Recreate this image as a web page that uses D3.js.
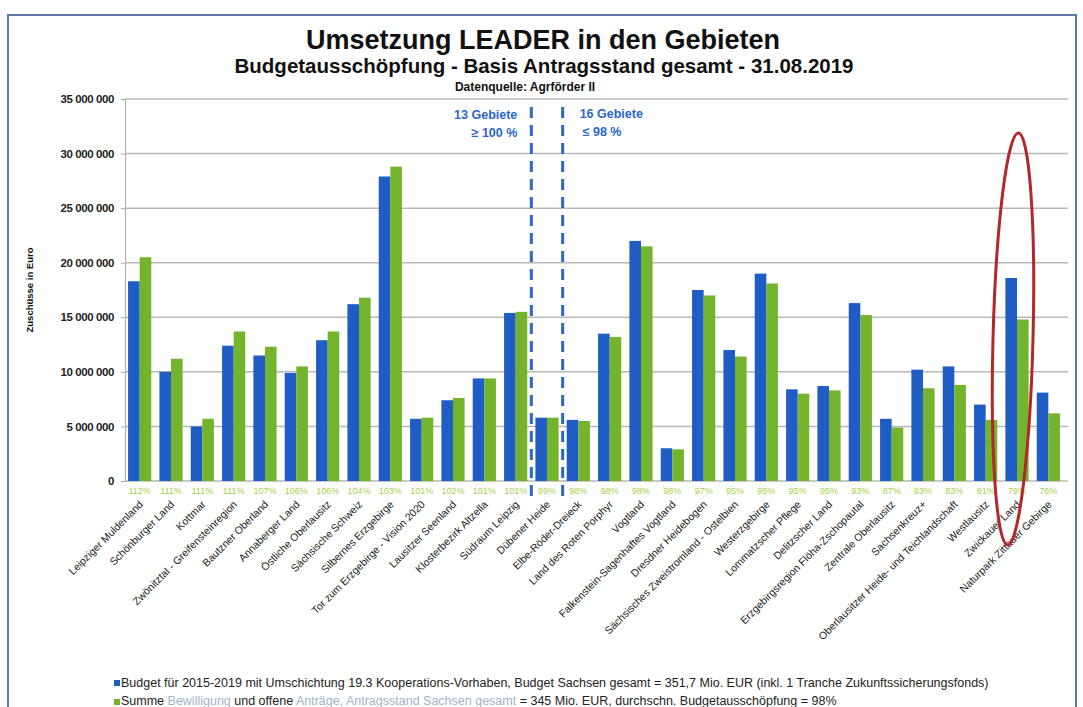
<!DOCTYPE html>
<html>
<head>
<meta charset="utf-8">
<script src="https://cdn.jsdelivr.net/npm/d3@7"></script>
<style>
  body { margin: 0; background: #fff; }
  svg { display: block; }
  text { font-family: "Liberation Sans", Arial, sans-serif; }
</style>
</head>
<body>
<div id="chart"></div>
<script>
// LEADER-Gebiete, sortiert nach Budgetausschöpfung
const regions = [
  "Leipziger Muldenland", "Schönburger Land", "Kottmar", "Zwönitztal - Greifensteinregion",
  "Bautzner Oberland", "Annaberger Land", "Östliche Oberlausitz", "Sächsische Schweiz",
  "Silbernes Erzgebirge", "Tor zum Erzgebirge - Vision 2020", "Lausitzer Seenland",
  "Klosterbezirk Altzella", "Südraum Leipzig", "Dübener Heide", "Elbe-Röder-Dreieck",
  "Land des Roten Porphyr", "Vogtland", "Falkenstein-Sagenhaftes Vogtland", "Dresdner Heidebogen",
  "Sächsisches Zweistromland - Ostelbien", "Westerzgebirge", "Lommatzscher Pflege",
  "Delitzscher Land", "Erzgebirgsregion Flöha-Zschopautal", "Zentrale Oberlausitz",
  "Sachsenkreuz+", "Oberlausitzer Heide- und Teichlandschaft", "Westlausitz",
  "Zwickauer Land", "Naturpark Zittauer Gebirge"
];
// Budget 2015-2019 (Euro)
const budget = [
  18300000, 10000000, 5000000, 12400000, 11500000, 9900000, 12900000, 16200000,
  27900000, 5700000, 7400000, 9400000, 15400000, 5800000, 5600000,
  13500000, 22000000, 3000000, 17500000, 12000000, 19000000, 8400000,
  8700000, 16300000, 5700000, 10200000, 10500000, 7000000, 18600000, 8100000
];
// Summe Bewilligung und offene Anträge (Euro)
const antraege = [
  20500000, 11200000, 5700000, 13700000, 12300000, 10500000, 13700000, 16800000,
  28800000, 5800000, 7600000, 9400000, 15500000, 5800000, 5500000,
  13200000, 21500000, 2900000, 17000000, 11400000, 18100000, 8000000,
  8300000, 15200000, 4900000, 8500000, 8800000, 5600000, 14800000, 6200000
];
const quote = [
  "112%", "111%", "111%", "111%", "107%", "106%", "106%", "104%", "103%", "101%",
  "102%", "101%", "101%", "99%", "98%", "98%", "98%", "98%", "97%", "95%",
  "95%", "95%", "95%", "93%", "87%", "83%", "83%", "81%", "79%", "76%"
];
const yTicks = [0, 5000000, 10000000, 15000000, 20000000, 25000000, 30000000, 35000000];

const W = 1083, H = 707;
const blue = "#1f5dc4", green = "#74b42c";

const svg = d3.select("#chart").append("svg").attr("width", W).attr("height", H);

// frame
svg.append("rect").attr("x", 8).attr("y", 15).attr("width", 1068).attr("height", 720)
  .attr("fill", "none").attr("stroke", "#5b78a8").attr("stroke-width", 2);

// titles
svg.append("text").attr("x", 543).attr("y", 49).attr("text-anchor", "middle")
  .attr("font-size", 27).attr("font-weight", "bold").attr("fill", "#111")
  .text("Umsetzung LEADER in den Gebieten");
svg.append("text").attr("x", 544).attr("y", 73).attr("text-anchor", "middle")
  .attr("font-size", 20.5).attr("font-weight", "bold").attr("fill", "#111")
  .text("Budgetausschöpfung - Basis Antragsstand gesamt -  31.08.2019");
svg.append("text").attr("x", 525).attr("y", 91).attr("text-anchor", "middle")
  .attr("font-size", 12).attr("font-weight", "bold").attr("fill", "#111")
  .text("Datenquelle: Agrförder II");

const x0 = d3.scaleBand().domain(regions).range([124, 1064]).paddingInner(0.26).paddingOuter(0.13);
const x1 = d3.scaleBand().domain(["budget", "antraege"]).range([0, x0.bandwidth()]);
const y = d3.scaleLinear().domain([0, 35000000]).range([481, 99]);

// grid
svg.append("g").selectAll("line").data(yTicks).join("line")
  .attr("x1", 125).attr("x2", 1068)
  .attr("y1", d => y(d)).attr("y2", d => y(d))
  .attr("stroke", "#b8b8b8").attr("stroke-width", 1.5);

// y axis
const fmt = d => d3.format(",")(d).replace(/,/g, " ");
const yAxis = svg.append("g").attr("transform", "translate(125,0)")
  .call(d3.axisLeft(y).tickValues(yTicks).tickFormat(fmt).tickSize(4).tickPadding(7));
yAxis.select(".domain").attr("stroke", "#aaa");
yAxis.selectAll(".tick line").attr("stroke", "#aaa");
yAxis.selectAll(".tick text").attr("font-size", 11.5).attr("font-weight", "bold").attr("fill", "#222")
  .attr("font-family", "Liberation Sans, Arial, sans-serif").attr("letter-spacing", -0.4);

svg.append("text").attr("transform", "translate(33,290) rotate(-90)").attr("text-anchor", "middle")
  .attr("font-size", 9.5).attr("font-weight", "bold").attr("fill", "#111")
  .text("Zuschüsse in Euro");

// bars
const groups = svg.append("g").selectAll("g").data(regions).join("g")
  .attr("transform", d => `translate(${x0(d)},0)`);
groups.append("rect")
  .attr("x", x1("budget")).attr("width", x1.bandwidth())
  .attr("y", (d, i) => y(budget[i])).attr("height", (d, i) => y(0) - y(budget[i]))
  .attr("fill", blue);
groups.append("rect")
  .attr("x", x1("antraege")).attr("width", x1.bandwidth())
  .attr("y", (d, i) => y(antraege[i])).attr("height", (d, i) => y(0) - y(antraege[i]))
  .attr("fill", green);

// percentage labels
svg.append("g").selectAll("text").data(regions).join("text")
  .attr("x", d => x0(d) + x0.bandwidth() / 2).attr("y", 494)
  .attr("text-anchor", "middle").attr("font-size", 9).attr("fill", "#a6cf4a")
  .text((d, i) => quote[i]);

// category labels
svg.append("g").selectAll("text").data(regions).join("text")
  .attr("transform", d => `translate(${x0(d) + x0.bandwidth() / 2 + 4},505) rotate(-45)`)
  .attr("text-anchor", "end").attr("font-size", 10.5).attr("fill", "#222")
  .text(d => d);

// divider between >=100% and <=98%
const div1 = (x0(regions[12]) + x0.bandwidth() + x0(regions[13])) / 2;
const div2 = (x0(regions[13]) + x0.bandwidth() + x0(regions[14])) / 2;
[div1, div2].forEach(xx => {
  svg.append("line").attr("x1", xx).attr("x2", xx).attr("y1", 107).attr("y2", 500)
    .attr("stroke", "#2a67cc").attr("stroke-width", 3).attr("stroke-dasharray", "11 7");
});
const note = svg.append("g").attr("font-weight", "bold").attr("fill", "#2a67cc").attr("font-size", 12.5);
note.append("text").attr("x", div1 - 14).attr("y", 119).attr("text-anchor", "end").text("13 Gebiete");
note.append("text").attr("x", div1 - 14).attr("y", 137).attr("text-anchor", "end").text("≥ 100 %");
note.append("text").attr("x", div2 + 17).attr("y", 118).text("16 Gebiete");
note.append("text").attr("x", div2 + 20).attr("y", 136).text("≤ 98 %");

// red highlight ellipse around Zwickauer Land
const zx = x0("Zwickauer Land") + x0.bandwidth() / 2 - 4;
svg.append("ellipse").attr("cx", zx).attr("cy", 339).attr("rx", 20).attr("ry", 206)
  .attr("transform", `rotate(1.5,${zx},339)`)
  .attr("fill", "none").attr("stroke", "#b3262c").attr("stroke-width", 3);

// legend
const legend = svg.append("g").attr("font-size", 12.5).attr("fill", "#222");
legend.append("rect").attr("x", 114).attr("y", 680).attr("width", 6).attr("height", 6).attr("fill", blue);
legend.append("text").attr("x", 121).attr("y", 687)
  .text("Budget für 2015-2019 mit Umschichtung 19.3 Kooperations-Vorhaben,  Budget Sachsen gesamt = 351,7 Mio. EUR (inkl. 1 Tranche Zukunftssicherungsfonds)");
legend.append("rect").attr("x", 114).attr("y", 699).attr("width", 6).attr("height", 6).attr("fill", green);
const l2 = legend.append("text").attr("x", 121).attr("y", 705);
l2.append("tspan").text("Summe ");
l2.append("tspan").attr("fill", "#9fb4c8").text("Bewilligung");
l2.append("tspan").text(" und offene ");
l2.append("tspan").attr("fill", "#9fb4c8").text("Anträge,  Antragsstand Sachsen gesamt");
l2.append("tspan").text(" = 345 Mio. EUR,  durchschn. Budgetausschöpfung = 98%");
</script>
</body>
</html>
